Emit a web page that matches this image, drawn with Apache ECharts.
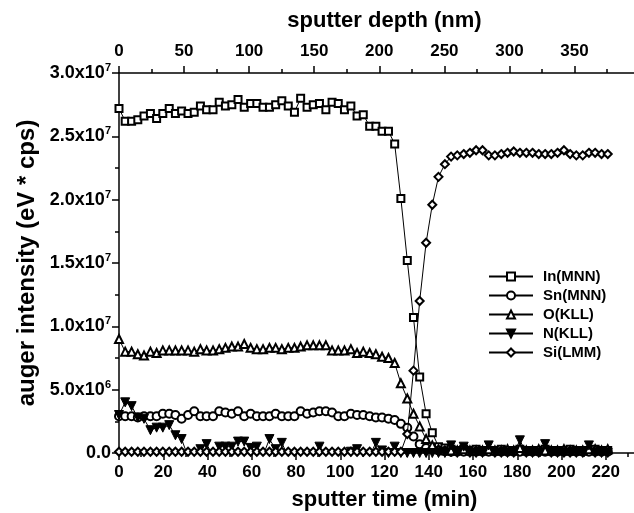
<!DOCTYPE html>
<html>
<head>
<meta charset="utf-8">
<script src="https://cdn.jsdelivr.net/npm/echarts@6/dist/echarts.min.js"></script>
<style>
html, body { margin: 0; padding: 0; background: #fff; }
#main { width: 634px; height: 513px; }
</style>
</head>
<body>
<div id="main"></div>
<script>
// sputter time (min) of each measurement
var sputterTime = [
  0, 2.8, 5.7, 8.5, 11.3, 14.2, 17.0, 19.8, 22.7, 25.5,
  28.3, 31.2, 34.0, 36.8, 39.6, 42.5, 45.3, 48.1, 51.0, 53.8,
  56.6, 59.5, 62.3, 65.1, 68.0, 70.8, 73.6, 76.5, 79.3, 82.1,
  85.0, 87.8, 90.6, 93.5, 96.3, 99.1, 101.9, 104.8, 107.6, 110.4,
  113.3, 116.1, 118.9, 121.8, 124.6, 127.4, 130.3, 133.1, 135.9, 138.8,
  141.6, 144.4, 147.3, 150.1, 152.9, 155.8, 158.6, 161.4, 164.3, 167.1,
  169.9, 172.8, 175.6, 178.4, 181.2, 184.1, 186.9, 189.7, 192.6, 195.4,
  198.2, 201.1, 203.9, 206.7, 209.6, 212.4, 215.2, 218.1, 220.9
];

// auger intensity in units of 1e6 eV*cps
var inMNN = [
  27.2, 26.2, 26.2, 26.3, 26.6, 26.8, 26.4, 26.8, 27.2, 26.8,
  27.0, 26.8, 26.9, 27.4, 27.1, 27.1, 27.7, 27.4, 27.5, 27.9,
  27.3, 27.6, 27.6, 27.3, 27.3, 27.5, 27.8, 27.4, 26.9, 28.0,
  27.3, 27.5, 27.6, 27.1, 27.7, 27.6, 27.1, 27.4, 26.6, 26.7,
  25.8, 25.8, 25.4, 25.4, 24.4, 20.1, 15.2, 10.7, 6.0, 3.1,
  1.6, 0.5, 0.4, 0.3, 0.2, 0.3, 0.2, 0.3, 0.2, 0.2,
  0.2, 0.3, 0.2, 0.2, 0.3, 0.2, 0.2, 0.2, 0.3, 0.2,
  0.2, 0.2, 0.3, 0.2, 0.2, 0.2, 0.3, 0.2, 0.2
];
var snMNN = [
  2.9, 2.9, 2.9, 2.8, 2.9, 2.9, 2.9, 3.1, 3.1, 3.0,
  2.7, 3.0, 3.3, 2.9, 2.9, 2.9, 3.3, 3.2, 3.1, 3.3,
  2.9, 3.1, 2.9, 2.9, 2.9, 3.1, 2.9, 2.9, 2.9, 3.3,
  3.1, 3.2, 3.3, 3.3, 3.2, 2.9, 2.9, 3.1, 3.0, 3.0,
  2.9, 2.8, 2.8, 2.7, 2.6, 2.3, 2.0, 1.3, 0.7, 0.4,
  0.3, 0.2, 0.15, 0.1, 0.1, 0.1, 0.1, 0.1, 0.1, 0.1,
  0.1, 0.1, 0.1, 0.1, 0.1, 0.1, 0.1, 0.1, 0.1, 0.1,
  0.1, 0.1, 0.1, 0.1, 0.1, 0.1, 0.1, 0.1, 0.1
];
var oKLL = [
  9.0, 8.0, 8.0, 7.8, 7.7, 8.0, 7.9, 8.1, 8.1, 8.1,
  8.1, 8.1, 8.0, 8.2, 8.1, 8.1, 8.2, 8.3, 8.4, 8.4,
  8.6, 8.3, 8.2, 8.2, 8.3, 8.3, 8.2, 8.3, 8.3, 8.4,
  8.5, 8.5, 8.5, 8.5, 8.1, 8.1, 8.1, 8.2, 7.9, 8.0,
  7.9, 7.8, 7.6, 7.5, 7.1, 5.5, 4.3, 3.1, 2.1, 1.1,
  0.6, 0.3, 0.2, 0.2, 0.2, 0.3, 0.2, 0.2, 0.2, 0.3,
  0.2, 0.2, 0.3, 0.2, 0.4, 0.2, 0.2, 0.3, 0.2, 0.2,
  0.2, 0.3, 0.2, 0.2, 0.2, 0.3, 0.3, 0.2, 0.3
];
var nKLL = [
  3.0, 4.0, 3.7, 2.8, 2.7, 1.8, 2.0, 2.0, 2.2, 1.4,
  1.1, -0.3, -0.3, 0.3, 0.7, -0.2, 0.5, 0.5, 0.5, 0.9,
  0.9, 0.4, 0.5, -0.2, 1.1, 0.3, 0.8, -0.3, -0.3, -0.3,
  -0.3, -0.3, 0.5, -0.3, -0.3, -0.3, -0.3, 0.1, 0.3, -0.2,
  -0.2, 0.8, 0.2, 0.0, 0.5, 0.0, 0.0, 0.0, 0.0, 0.0,
  0.0, 0.0, 0.0, 0.6, 0.0, 0.5, 0.0, 0.0, 0.0, 0.6,
  0.0, 0.0, 0.0, 0.0, 1.0, 0.0, 0.0, 0.0, 0.7, 0.0,
  0.0, 0.0, 0.0, 0.0, 0.0, 0.6, 0.0, 0.0, 0.0
];
var siLMM = [
  0.1, 0.1, 0.1, 0.1, 0.1, 0.1, 0.1, 0.1, 0.1, 0.1,
  0.1, 0.1, 0.1, 0.1, 0.1, 0.1, 0.1, 0.1, 0.1, 0.1,
  0.1, 0.1, 0.1, 0.1, 0.1, 0.1, 0.1, 0.1, 0.1, 0.1,
  0.1, 0.1, 0.1, 0.1, 0.1, 0.1, 0.1, 0.1, 0.1, 0.1,
  0.1, 0.1, 0.1, 0.1, 0.1, 0.1, 1.5, 6.5, 12.0, 16.6,
  19.6, 21.8, 22.8, 23.4, 23.5, 23.6, 23.7, 23.9, 23.9, 23.5,
  23.5, 23.6, 23.7, 23.8, 23.7, 23.7, 23.7, 23.6, 23.6, 23.6,
  23.7, 23.9, 23.6, 23.5, 23.5, 23.7, 23.7, 23.6, 23.6
];

var seriesNames = ['In(MNN)', 'Sn(MNN)', 'O(KLL)', 'N(KLL)', 'Si(LMM)'];
var seriesValues = [inMNN, snMNN, oKLL, nKLL, siLMM];
var seriesSymbols = ['emptyRect', 'emptyCircle', 'emptyTriangle', 'path://M0,0L10,0L5,9Z', 'emptyDiamond'];
var seriesSymbolSizes = [7, 8, 8, 9, 8];

var font = 'Liberation Sans, Arial, Helvetica, sans-serif';

function pairs(vals) {
  var out = [];
  for (var i = 0; i < vals.length; i++) out.push([sputterTime[i], vals[i] * 1e6]);
  return out;
}

function sciLabel(v) {
  if (v === 0) return '0.0';
  var e = Math.floor(Math.log10(v) + 1e-9);
  var m = v / Math.pow(10, e);
  return m.toFixed(1) + 'x10{sup|' + e + '}';
}

var chartDom = document.getElementById('main');
var myChart = echarts.init(chartDom);
var option;

var axisCommon = {
  axisLine: { show: true, onZero: false, lineStyle: { color: '#000', width: 1.5 } },
  axisTick: { show: true, inside: false, length: 7, lineStyle: { color: '#000', width: 1.5 } },
  minorTick: { show: true, splitNumber: 2, length: 4, lineStyle: { color: '#000', width: 1.5 } },
  splitLine: { show: false },
  minorSplitLine: { show: false }
};

option = {
  backgroundColor: '#fff',
  animation: false,
  grid: {
    left: 119,
    top: 73,
    right: -16,   // axis runs on past the picture edge
    bottom: 60,
    containLabel: false,
    outerBoundsMode: 'none'
  },
  legend: {
    orient: 'vertical',
    left: 483,
    top: 264,
    itemWidth: 44,
    itemHeight: 10,
    itemGap: 4,
    data: seriesNames,
    textStyle: {
      color: '#000',
      fontFamily: font,
      fontWeight: 'bold',
      fontSize: 15,
      lineHeight: 13,
      padding: [0, 0, 0, 5]
    }
  },
  xAxis: [
    Object.assign({}, axisCommon, {
      type: 'value',
      position: 'bottom',
      min: 0,
      max: 240,
      interval: 20,
      name: 'sputter time (min)',
      nameLocation: 'middle',
      nameGap: 36,
      nameTextStyle: { color: '#000', fontFamily: font, fontWeight: 'bold', fontSize: 22 },
      axisLabel: {
        color: '#000', fontFamily: font, fontWeight: 'bold', fontSize: 17, margin: 11,
        formatter: function (v) { return v > 225 ? '' : String(v); }
      }
    }),
    Object.assign({}, axisCommon, {
      type: 'value',
      position: 'top',
      min: 0,
      max: 408,
      interval: 50,
      name: 'sputter depth (nm)',
      nameLocation: 'middle',
      nameGap: 41,
      nameTextStyle: { color: '#000', fontFamily: font, fontWeight: 'bold', fontSize: 22 },
      axisLabel: {
        color: '#000', fontFamily: font, fontWeight: 'bold', fontSize: 17, margin: 13,
        formatter: function (v) { return v > 380 ? '' : String(v); }
      }
    })
  ],
  yAxis: Object.assign({}, axisCommon, {
    type: 'value',
    min: 0,
    max: 3e7,
    interval: 5e6,
    name: 'auger intensity (eV * cps)',
    nameLocation: 'middle',
    nameGap: 80,
    nameTextStyle: { color: '#000', fontFamily: font, fontWeight: 'bold', fontSize: 24 },
    axisLabel: {
      color: '#000', fontFamily: font, fontWeight: 'bold', fontSize: 18, margin: 8,
      formatter: sciLabel,
      rich: {
        sup: { fontFamily: font, fontWeight: 'bold', fontSize: 11, color: '#000', padding: [0, 0, 10, 0] }
      }
    }
  }),
  series: seriesNames.map(function (name, k) {
    return {
      name: name,
      type: 'line',
      xAxisIndex: 0,
      data: pairs(seriesValues[k]),
      symbol: seriesSymbols[k],
      symbolSize: seriesSymbolSizes[k],
      showAllSymbol: true,
      color: '#000',
      lineStyle: { color: '#000', width: 1 },
      itemStyle: { color: '#000', borderColor: '#000', borderWidth: 1 },
      z: 2 + k
    };
  })
};

option && myChart.setOption(option);
</script>
</body>
</html>
